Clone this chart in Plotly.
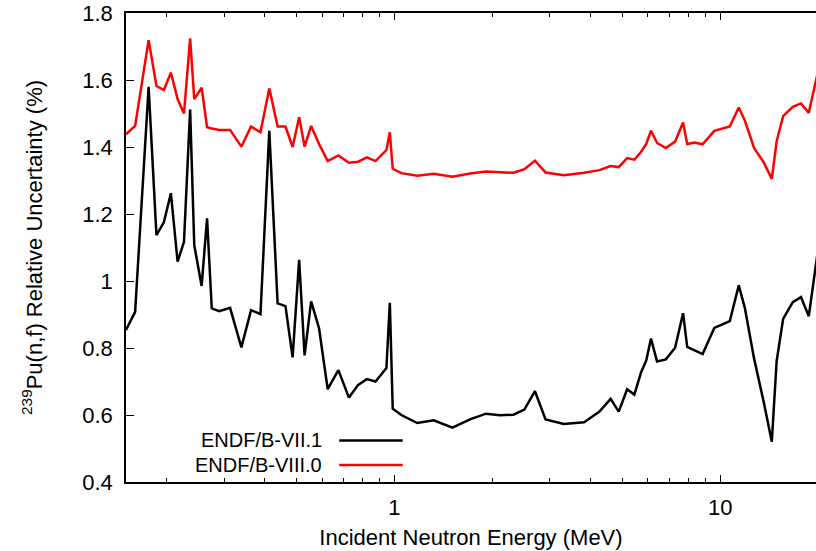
import numpy as np
import plotly.graph_objects as go

energy_mev = [0.15, 0.16, 0.176, 0.186, 0.196, 0.206, 0.216, 0.226, 0.236, 0.243,
              0.256, 0.266, 0.275, 0.29, 0.313, 0.339, 0.363, 0.388, 0.413, 0.438,
              0.463, 0.487, 0.51, 0.53, 0.555, 0.587, 0.624, 0.673, 0.725, 0.774,
              0.823, 0.875, 0.945, 0.968, 0.988, 1.05, 1.175, 1.32, 1.507, 1.706,
              1.91, 2.11, 2.32, 2.505, 2.70, 2.91, 3.31, 3.82, 4.26, 4.61,
              4.88, 5.18, 5.45, 5.71, 5.93, 6.13, 6.40, 6.81, 7.27, 7.69,
              7.92, 8.34, 8.83, 9.59, 10.7, 11.4, 11.9, 12.7, 13.6, 14.4,
              14.9, 15.6, 16.7, 17.7, 18.7, 20.0]

endf_b_vii1 = [0.854, 0.908, 1.580, 1.137, 1.175, 1.262, 1.058, 1.117, 1.512, 1.107,
               0.985, 1.187, 0.918, 0.910, 0.920, 0.802, 0.913, 0.901, 1.448, 0.933,
               0.925, 0.772, 1.063, 0.778, 0.939, 0.859, 0.677, 0.734, 0.652, 0.690,
               0.707, 0.700, 0.740, 0.935, 0.619, 0.600, 0.576, 0.584, 0.562, 0.587,
               0.604, 0.599, 0.601, 0.616, 0.671, 0.587, 0.573, 0.578, 0.610, 0.648,
               0.610, 0.677, 0.661, 0.726, 0.763, 0.828, 0.760, 0.766, 0.801, 0.904,
               0.803, 0.792, 0.782, 0.860, 0.880, 0.987, 0.920, 0.769, 0.639, 0.520,
               0.761, 0.887, 0.937, 0.952, 0.895, 1.10]

endf_b_viii0 = [1.438, 1.463, 1.719, 1.582, 1.570, 1.622, 1.543, 1.500, 1.724, 1.543,
                1.577, 1.459, 1.455, 1.451, 1.451, 1.401, 1.461, 1.444, 1.575, 1.461,
                1.461, 1.400, 1.489, 1.401, 1.463, 1.409, 1.358, 1.375, 1.353, 1.356,
                1.369, 1.358, 1.391, 1.444, 1.335, 1.322, 1.314, 1.320, 1.311, 1.321,
                1.327, 1.325, 1.323, 1.334, 1.359, 1.324, 1.316, 1.323, 1.331, 1.343,
                1.340, 1.367, 1.362, 1.385, 1.409, 1.449, 1.412, 1.397, 1.416, 1.473,
                1.409, 1.413, 1.408, 1.448, 1.461, 1.518, 1.479, 1.397, 1.354, 1.305,
                1.417, 1.492, 1.520, 1.530, 1.502, 1.63]

x_major_ticks = [1, 10]
x_tick_labels = ["1", "10"]
x_minor_ticks = [0.2, 0.3, 0.4, 0.5, 0.6, 0.7, 0.8, 0.9, 2, 3, 4, 5, 6, 7, 8, 9, 20]
y_ticks = [0.4, 0.6, 0.8, 1.0, 1.2, 1.4, 1.6, 1.8]
y_tick_labels = ["0.4", "0.6", "0.8", "1", "1.2", "1.4", "1.6", "1.8"]

series_names = ["ENDF/B-VII.1", "ENDF/B-VIII.0"]
series_colors = ["#000000", "#ff0000"]
series_values = [endf_b_vii1, endf_b_viii0]

FONT = "Liberation Sans, Arial, Helvetica, sans-serif"
FS = 22
LEG_FS = 20

fig = go.Figure()
for name, vals, col in zip(series_names, series_values, series_colors):
    fig.add_trace(go.Scatter(x=energy_mev, y=vals, mode="lines", name=name,
                             line=dict(color=col, width=2.5), showlegend=False))

# manual legend (text to the left of the line sample, gnuplot style)
leg_y = [0.0885, 0.036]
for name, col, yy in zip(series_names, series_colors, leg_y):
    fig.add_annotation(x=0.286, y=yy, xref="paper", yref="paper", text=name,
                       showarrow=False, xanchor="right", yanchor="middle",
                       borderpad=0,
                       font=dict(family=FONT, size=LEG_FS, color="#000"))
    fig.add_shape(type="line", xref="paper", yref="paper", x0=0.309, x1=0.401,
                  y0=yy, y1=yy, line=dict(color=col, width=2.5))

fig.update_layout(
    width=816, height=551,
    margin=dict(l=126, r=0, t=13, b=69),
    paper_bgcolor="white", plot_bgcolor="white",
    font=dict(family=FONT, size=FS, color="#000"),
    xaxis=dict(
        type="log", range=[np.log10(0.15), 1.294],
        tickmode="array", tickvals=x_major_ticks, ticktext=x_tick_labels,
        ticks="inside", ticklen=7, tickwidth=1, tickcolor="#000",
        minor=dict(tickmode="array", tickvals=x_minor_ticks, ticks="inside",
                   ticklen=4, tickwidth=1, tickcolor="#000", showgrid=False),
        showline=True, linecolor="#000", linewidth=1.5, mirror="allticks",
        showgrid=False, zeroline=False, ticklabelstandoff=5,
        title=dict(text="Incident Neutron Energy (MeV)", standoff=10,
                   font=dict(family=FONT, size=FS)),
        tickfont=dict(family=FONT, size=FS),
    ),
    yaxis=dict(
        range=[0.4, 1.8],
        tickmode="array", tickvals=y_ticks, ticktext=y_tick_labels,
        ticks="inside", ticklen=8, tickwidth=1, tickcolor="#000",
        showline=True, linecolor="#000", linewidth=1.5, mirror=False,
        showgrid=False, zeroline=False, ticklabelstandoff=7,
        title=dict(text="<sup>239</sup>Pu(n,f) Relative Uncertainty (%)", standoff=34,
                   font=dict(family=FONT, size=FS)),
        tickfont=dict(family=FONT, size=FS),
    ),
)

fig.write_html("out.html")
